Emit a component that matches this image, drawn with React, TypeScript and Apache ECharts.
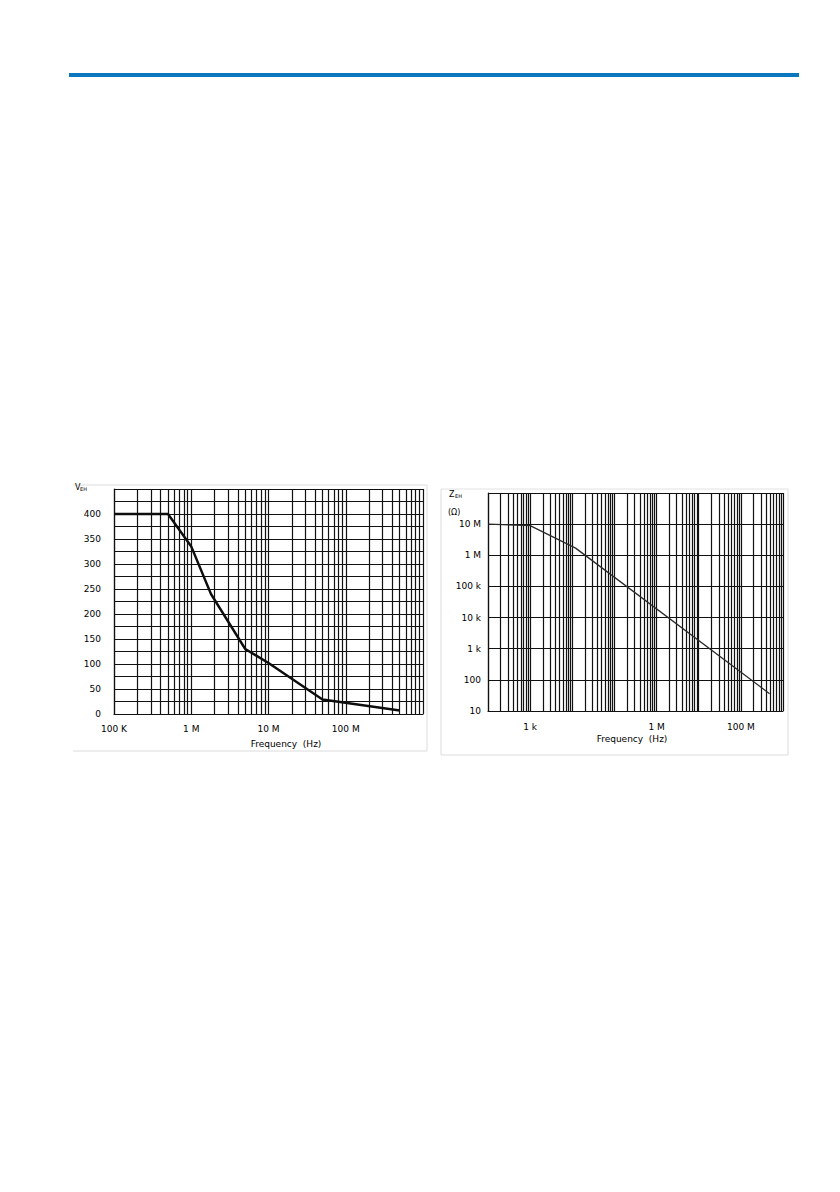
import React, { useEffect, useRef } from "react";
import * as echarts from "echarts";

// ---- Data ----
const leftFreq = [1e5, 5e5, 1e6, 1.8e6, 5e6, 1e7, 5e7, 5e8];
const leftVoltage = [400, 400, 335, 240, 130, 102, 29, 7];

const rightFreq = [100, 1e3, 1.2e4, 4.8e8];
const rightImpedance = [1e7, 9e6, 1.7e6, 36];

// tick labels keyed by decade exponent
const leftXTickLabels: Record<number, string> = { 5: "100 K", 6: "1 M", 7: "10 M", 8: "100 M" };
const leftYTickLabels = [0, 50, 100, 150, 200, 250, 300, 350, 400];
const rightXTickLabels: Record<number, string> = { 3: "1 k", 6: "1 M", 8: "100 M" };
const rightYTickLabels: Record<number, string> = {
  1: "10",
  2: "100",
  3: "1 k",
  4: "10 k",
  5: "100 k",
  6: "1 M",
  7: "10 M",
};

const FONT = "DejaVu Sans";
const TXT = "#000";
const GRID = "#111";
const GRID_W = 1.2;

function logGridValues(fromExp: number, toExp: number): number[] {
  const out: number[] = [];
  for (let e = fromExp; e < toExp; e++) {
    for (let m = 1; m <= 9; m++) out.push(m * Math.pow(10, e));
  }
  out.push(Math.pow(10, toExp));
  return out;
}

export default function App() {
  const ref = useRef<HTMLDivElement>(null);

  useEffect(() => {
    if (!ref.current) return;
    const chart = echarts.init(ref.current, undefined, { renderer: "svg" });

    const gridLine = (vals: number[]) => ({
      silent: true,
      z: 1,
      symbol: ["none", "none"],
      label: { show: false },
      emphasis: { disabled: true },
      lineStyle: { color: GRID, width: GRID_W, type: "solid" },
      data: vals.map((v) => ({ xAxis: v })),
    });

    const option: any = {
      animation: false,
      backgroundColor: "#ffffff",
      textStyle: { fontFamily: FONT },
      grid: [
        { left: 114, top: 489, width: 309, height: 225, containLabel: false },
        { left: 488, top: 493, width: 295, height: 218, containLabel: false },
      ],
      xAxis: [
        {
          type: "log",
          gridIndex: 0,
          min: 1e5,
          max: 1e9,
          logBase: 10,
          axisLine: { show: true, lineStyle: { color: GRID, width: GRID_W } },
          axisTick: { show: false },
          splitLine: { show: false },
          axisLabel: {
            margin: 10,
            fontSize: 9,
            color: TXT,
            fontFamily: FONT,
            formatter: (v: number) => leftXTickLabels[Math.round(Math.log10(v))] ?? "",
          },
        },
        {
          type: "log",
          gridIndex: 1,
          min: 100,
          max: 1e9,
          logBase: 10,
          axisLine: { show: true, lineStyle: { color: GRID, width: GRID_W } },
          axisTick: { show: false },
          splitLine: { show: false },
          axisLabel: {
            margin: 11,
            fontSize: 9,
            color: TXT,
            fontFamily: FONT,
            formatter: (v: number) => rightXTickLabels[Math.round(Math.log10(v))] ?? "",
          },
        },
      ],
      yAxis: [
        {
          type: "value",
          gridIndex: 0,
          min: 0,
          max: 450,
          interval: 25,
          axisLine: { show: true, lineStyle: { color: GRID, width: GRID_W } },
          axisTick: { show: false },
          splitLine: { show: true, lineStyle: { color: GRID, width: GRID_W } },
          axisLabel: {
            margin: 13,
            fontSize: 9,
            color: TXT,
            fontFamily: FONT,
            formatter: (v: number) => (leftYTickLabels.indexOf(v) >= 0 ? String(v) : ""),
          },
        },
        {
          type: "log",
          gridIndex: 1,
          min: 10,
          max: 1e8,
          logBase: 10,
          axisLine: { show: true, lineStyle: { color: GRID, width: GRID_W } },
          axisTick: { show: false },
          splitLine: { show: true, lineStyle: { color: GRID, width: GRID_W } },
          axisLabel: {
            margin: 7,
            fontSize: 9,
            color: TXT,
            fontFamily: FONT,
            formatter: (v: number) => rightYTickLabels[Math.round(Math.log10(v))] ?? "",
          },
        },
      ],
      series: [
        {
          type: "line",
          xAxisIndex: 0,
          yAxisIndex: 0,
          z: 3,
          showSymbol: false,
          symbol: "none",
          silent: true,
          lineStyle: { color: "#0d0d0d", width: 2.4 },
          data: leftFreq.map((f, i) => [f, leftVoltage[i]]),
          markLine: gridLine(logGridValues(5, 9)),
        },
        {
          type: "line",
          xAxisIndex: 1,
          yAxisIndex: 1,
          z: 3,
          showSymbol: false,
          symbol: "none",
          silent: true,
          lineStyle: { color: "#2a2a2a", width: 1.3 },
          data: rightFreq.map((f, i) => [f, rightImpedance[i]]),
          markLine: gridLine(logGridValues(2, 9)),
        },
      ],
      graphic: [
        { type: "rect", shape: { x: 69, y: 73, width: 730, height: 4 }, style: { fill: "#0b77be" } },
        // left panel frame
        { type: "line", shape: { x1: 73, y1: 485, x2: 427, y2: 485 }, style: { stroke: "#dcdcdc", lineWidth: 1 } },
        { type: "line", shape: { x1: 427, y1: 485, x2: 427, y2: 751 }, style: { stroke: "#dcdcdc", lineWidth: 1 } },
        { type: "line", shape: { x1: 73, y1: 751, x2: 427, y2: 751 }, style: { stroke: "#dcdcdc", lineWidth: 1 } },
        // right panel frame
        { type: "line", shape: { x1: 441, y1: 489, x2: 788, y2: 489 }, style: { stroke: "#e2e2e2", lineWidth: 1 } },
        { type: "line", shape: { x1: 441, y1: 489, x2: 441, y2: 755 }, style: { stroke: "#dcdcdc", lineWidth: 1 } },
        { type: "line", shape: { x1: 788, y1: 489, x2: 788, y2: 755 }, style: { stroke: "#dcdcdc", lineWidth: 1 } },
        { type: "line", shape: { x1: 441, y1: 755, x2: 788, y2: 755 }, style: { stroke: "#dcdcdc", lineWidth: 1 } },
        // axis names
        { type: "text", x: 75, y: 483, style: { text: "V", fontSize: 8, fontFamily: FONT, fill: TXT } },
        { type: "text", x: 80, y: 486, style: { text: "EH", fontSize: 5, fontFamily: FONT, fill: TXT } },
        { type: "text", x: 449, y: 490, style: { text: "Z", fontSize: 8, fontFamily: FONT, fill: TXT } },
        { type: "text", x: 455, y: 493, style: { text: "EH", fontSize: 5, fontFamily: FONT, fill: TXT } },
        { type: "text", x: 448, y: 508, style: { text: "(Ω)", fontSize: 8, fontFamily: FONT, fill: TXT } },
        {
          type: "text",
          x: 286,
          y: 744,
          style: { text: "Frequency  (Hz)", fontSize: 9, fontFamily: FONT, fill: TXT, align: "center", verticalAlign: "middle" },
        },
        {
          type: "text",
          x: 632,
          y: 739,
          style: { text: "Frequency  (Hz)", fontSize: 9, fontFamily: FONT, fill: TXT, align: "center", verticalAlign: "middle" },
        },
      ],
    };

    chart.setOption(option);
    return () => chart.dispose();
  }, []);

  return (
    <div
      ref={ref}
      style={{ position: "absolute", left: 0, top: 0, width: 840, height: 1192, background: "#fff" }}
    />
  );
}
